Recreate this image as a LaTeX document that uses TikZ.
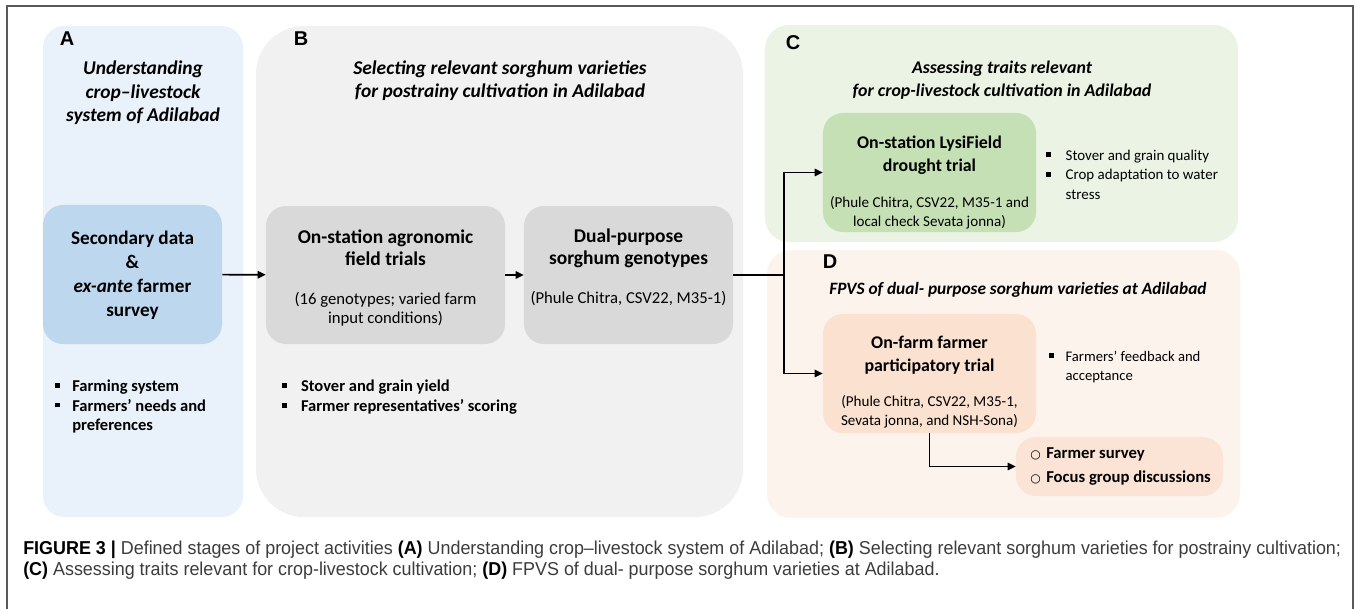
\documentclass[tikz,border=0pt]{standalone}
\usepackage{fontspec}
\setmainfont{Carlito}
\newfontfamily\labelfont{Liberation Sans}
\newfontfamily\capfont[FakeStretch=0.96]{Liberation Sans}
\newfontfamily\symfont{DejaVu Sans}
\usepackage{tikz}
\usetikzlibrary{arrows.meta,positioning}

\definecolor{panelA}{RGB}{233,241,250}
\definecolor{panelB}{RGB}{241,241,241}
\definecolor{panelC}{RGB}{235,243,229}
\definecolor{panelD}{RGB}{253,243,237}
\definecolor{boxA}{RGB}{189,215,238}
\definecolor{boxB}{RGB}{217,217,217}
\definecolor{boxC}{RGB}{197,224,180}
\definecolor{boxD}{RGB}{250,225,208}
\definecolor{boxE}{RGB}{251,228,213}
\definecolor{captext}{RGB}{60,60,60}

% bullets for the trait lists
\newcommand{\sqb}[1][12.75pt]{\makebox[#1][l]{\rule[0.22em]{3.6pt}{3.6pt}}}
\newcommand{\sqskip}[1][12.75pt]{\hspace*{#1}}
\newcommand{\ringb}{\makebox[12pt][l]{\symfont\fontsize{9}{9}\selectfont ○}}

\begin{document}
\begin{tikzpicture}[
						x=0.75pt, y=-0.75pt,
						every node/.style={font=\fontsize{14}{17}\selectfont},
						box/.style={fill=#1, rounded corners=15pt, inner sep=0pt},
						head/.style={align=center, font=\fontsize{14.6}{16.5}\selectfont\bfseries},
						sub/.style={align=center, font=\fontsize{12.5}{14.6}\selectfont},
						title/.style={align=center, font=\fontsize{14.6}{17.4}\selectfont\bfseries\itshape},
						letter/.style={font=\labelfont\fontsize{15}{17}\selectfont\bfseries},
						points/.style={align=left, anchor=west, inner sep=0pt, font=\fontsize{12.4}{14.6}\selectfont\bfseries},
						arrow/.style={line width=1.2pt, -{Triangle[length=6pt,width=5.5pt]}},
						frame/.style={draw=black!65, line width=1.1pt}
						]
						
						\useasboundingbox (0,0) rectangle (1358,608);
						
						% Outer frame
						\draw[frame] (7,612) -- (7,6) -- (1353,6) -- (1353,612);
						
						% Stage panels
						\fill[panelA, rounded corners=16pt] (43,26) rectangle (243,517);
						\fill[panelB, rounded corners=36pt] (256,26) rectangle (743,517);
						\fill[panelC, rounded corners=18pt] (765,25) rectangle (1238,242);
						\fill[panelD, rounded corners=18pt] (767,250) rectangle (1240,518);
						
						% Panel letters and titles
						\node[letter] (letA) at (67,39) {A};
						\node[letter] (letB) at (301,39) {B};
						\node[letter] (letC) at (793,43) {C};
						\node[letter] (letD) at (830,262) {D};
						
						\node[title, font=\fontsize{14.6}{17.6}\selectfont\bfseries\itshape] (titleA) at (143,92.7) {Understanding\\crop--livestock\\system of Adilabad};
						\node[title] (titleB) at (500,80.5) {Selecting relevant sorghum varieties\\for postrainy cultivation in Adilabad};
						\node[title, font=\fontsize{13.4}{17.2}\selectfont\bfseries\itshape] (titleC) at (1002,80.5) {Assessing traits relevant\\for crop-livestock cultivation in Adilabad};
						\node[title, font=\fontsize{13}{16}\selectfont\bfseries\itshape] (titleD) at (1018,290) {FPVS of dual- purpose sorghum varieties at Adilabad};
						
						% Activity boxes
						\node[box=boxA, minimum width=134.3pt, minimum height=104.3pt] (survey) at (132.5,274.5) {};
						\node[box=boxB, minimum width=179.3pt, minimum height=103.5pt] (agro) at (385.5,275) {};
						\node[box=boxB, minimum width=156.8pt, minimum height=103.5pt] (dual) at (628.5,275) {};
						\node[box=boxC, minimum width=159.8pt, minimum height=89.3pt] (lysi) at (929.5,172.5) {};
						\node[box=boxD, minimum width=159.8pt, minimum height=89.3pt] (onfarm) at (929.5,373.5) {};
						\node[box=boxE, minimum width=155.3pt, minimum height=44.3pt] (methods) at (1119.5,466.5) {};
						
						% Box texts
						\node[head, font=\fontsize{14.4}{17.8}\selectfont\bfseries] (surveytxt) at (132.5,275.3) {Secondary data\\\&\\\textit{ex-ante} farmer\\survey};
						\node[head] (agrotxt) at (385.5,248) {On-station agronomic\\field trials};
						\node[sub] (agrosub) at (385.5,309) {(16 genotypes; varied farm\\input conditions)};
						\node[head] (dualtxt) at (628.5,248) {Dual-purpose\\sorghum genotypes};
						\node[sub] (dualsub) at (628.5,299) {(Phule Chitra, CSV22, M35-1)};
						\node[head, font=\fontsize{13.4}{17.2}\selectfont\bfseries] (lysitxt) at (929.5,155.5) {On-station LysiField\\drought trial};
						\node[sub, font=\fontsize{11.3}{14.3}\selectfont] (lysisub) at (929.5,212.5) {(Phule Chitra, CSV22, M35-1 and\\local check Sevata jonna)};
						\node[head, font=\fontsize{13.4}{17.2}\selectfont\bfseries] (onfarmtxt) at (929.5,355.5) {On-farm farmer\\participatory trial};
						\node[sub, font=\fontsize{11.3}{14.3}\selectfont] (onfarmsub) at (929.5,411.5) {(Phule Chitra, CSV22, M35-1,\\Sevata jonna, and NSH-Sona)};
						\node[points, font=\fontsize{12.5}{17.3}\selectfont\bfseries] (methodtxt) at (1030,466.5) {\ringb Farmer survey\\\ringb Focus group discussions};
						
						% Trait lists
						\node[points] (pointsA) at (55,406.5) {\sqb Farming system\\\sqb Farmers’ needs and\\\sqskip preferences};
						\node[points] (pointsB) at (282,397) {\sqb[11.25pt] Stover and grain yield\\\sqb[11.25pt] Farmer representatives’ scoring};
						\node[points, font=\fontsize{11.2}{14.6}\selectfont] (pointsC) at (1046,174.7) {\sqb[12pt] Stover and grain quality\\\sqb[12pt] Crop adaptation to water\\\sqskip[12pt] stress};
						\node[points, font=\fontsize{11}{14.6}\selectfont] (pointsD) at (1049,367) {\sqb[9.75pt] Farmers’ feedback and\\\sqskip[9.75pt] acceptance};
						
						% Connectors
						\coordinate (split) at (784,275);
						\draw[arrow] (survey) -- (agro);
						\draw[arrow] (agro) -- (dual);
						\draw[line width=1.2pt] (dual.east) -- (split);
						\draw[arrow] (split) |- (lysi.west);
						\draw[arrow] (split) |- (onfarm.west);
						\draw[arrow] (onfarm.south) |- (methods.west);
						
						% Caption
						\node[anchor=west, inner sep=0pt, text=captext, font=\capfont\fontsize{14}{16}\selectfont] (cap1) at (23,550) {\textcolor{black}{\textbf{FIGURE 3 |}} Defined stages of project activities \textcolor{black}{\textbf{(A)}} Understanding crop–livestock system of Adilabad; \textcolor{black}{\textbf{(B)}} Selecting relevant sorghum varieties for postrainy cultivation;};
						\node[anchor=west, inner sep=0pt, text=captext, font=\capfont\fontsize{14}{16}\selectfont] (cap2) at (23,571) {\textcolor{black}{\textbf{(C)}} Assessing traits relevant for crop-livestock cultivation; \textcolor{black}{\textbf{(D)}} FPVS of dual- purpose sorghum varieties at Adilabad.};
						
					\end{tikzpicture}
\end{document}
